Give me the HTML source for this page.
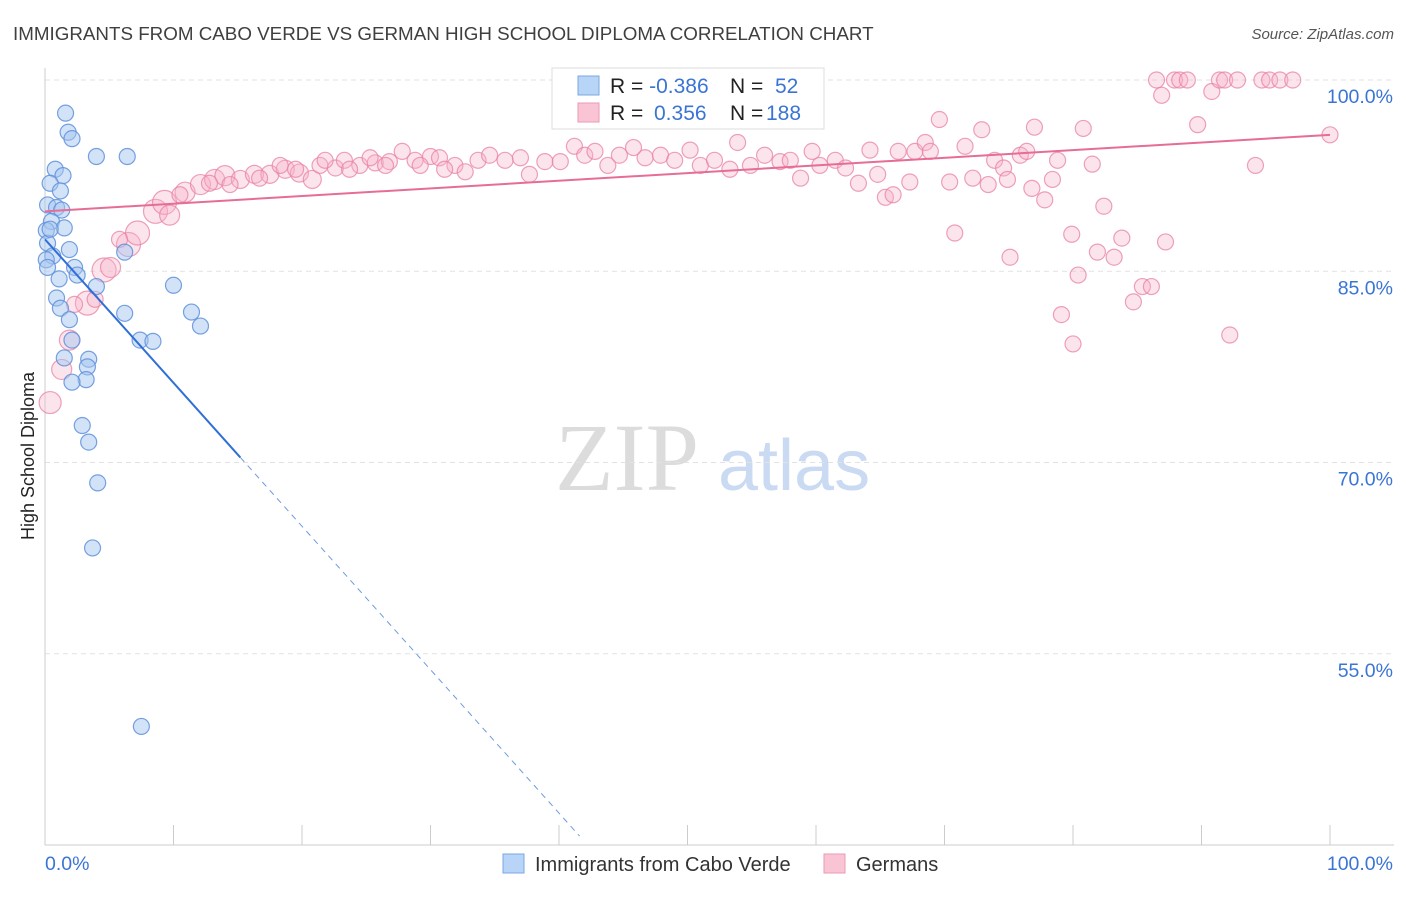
<!DOCTYPE html>
<html><head><meta charset="utf-8"><style>
html,body{margin:0;padding:0;background:#fff;}
body{width:1406px;height:892px;overflow:hidden;font-family:"Liberation Sans",sans-serif;}
</style></head><body>
<svg id="chart" width="1406" height="892" xmlns="http://www.w3.org/2000/svg" font-family="Liberation Sans, sans-serif">
<text x="13" y="40" font-size="18.8" fill="#3f3f3f">IMMIGRANTS FROM CABO VERDE VS GERMAN HIGH SCHOOL DIPLOMA CORRELATION CHART</text>
<text x="1394" y="39" font-size="15" fill="#555" font-style="italic" text-anchor="end">Source: ZipAtlas.com</text>
<text transform="translate(34,456) rotate(-90)" font-size="18" fill="#222" text-anchor="middle">High School Diploma</text>
<g>
<text x="555" y="490" font-size="96" font-family="Liberation Serif, serif" fill="#dcdcdc">ZIP</text>
<text x="718" y="490" font-size="72" fill="#c9daf2">atlas</text>
</g>
<g id="grid"></g>
<g id="axes"></g>
<g id="pinkPts"></g>
<g id="bluePts"></g>
<g id="trends"></g>
<g>
<rect x="552" y="68" width="272" height="61" fill="#fff" stroke="#ddd"/>
<rect x="578" y="76" width="21" height="19" fill="#b8d4f6" stroke="#7aa7e3"/>
<rect x="578" y="103" width="21" height="19" fill="#f9c5d5" stroke="#eb9ab3"/>
<text x="610" y="93" font-size="21" fill="#222">R = <tspan fill="#3a75d4">-0.386</tspan><tspan x="730">N = </tspan><tspan x="775" fill="#3a75d4">52</tspan></text>
<text x="610" y="120" font-size="21" fill="#222">R = <tspan x="654" fill="#3a75d4">0.356</tspan><tspan x="730">N = </tspan><tspan x="766" fill="#3a75d4">188</tspan></text>
</g>
<g>
<rect x="503" y="854" width="21" height="19" fill="#b8d4f6" stroke="#7aa7e3"/>
<text x="535" y="871" font-size="20" fill="#333">Immigrants from Cabo Verde</text>
<rect x="824" y="854" width="21" height="19" fill="#f9c5d5" stroke="#eb9ab3"/>
<text x="856" y="871" font-size="20" fill="#333">Germans</text>
</g>
</svg>
<script>
const yTicks=[100,85,70,55];
const yTickLabels=["100.0%","85.0%","70.0%","55.0%"];
const xEndLabels=["0.0%","100.0%"];
const blueX=[1.6,1.8,2.1,4.0,6.4,0.8,1.4,0.4,1.2,0.2,0.9,1.3,0.5,1.5,0.1,0.2,1.9,6.2,0.6,0.1,2.3,2.5,1.1,4.0,10.0,0.9,1.2,6.2,11.4,1.9,12.1,7.4,8.4,2.1,1.5,3.4,3.3,3.2,2.1,2.9,3.4,4.1,3.7,7.5,0.2,0.4];
const blueY=[97.4,95.9,95.4,94.0,94.0,93.0,92.5,91.9,91.3,90.2,90.0,89.8,88.9,88.4,88.2,87.2,86.7,86.5,86.2,85.9,85.3,84.7,84.4,83.8,83.9,82.9,82.1,81.7,81.8,81.2,80.7,79.6,79.5,79.6,78.2,78.1,77.5,76.5,76.3,72.9,71.6,68.4,63.3,49.3,85.3,88.3];
const pinkX=[0.4,1.3,1.9,3.3,4.6,5.1,6.5,7.2,8.6,9.3,9.7,10.9,12.1,13.2,14.0,15.2,16.3,17.5,18.7,19.8,20.8,21.4,22.6,23.3,24.5,25.7,26.8,27.8,28.8,30.0,30.7,31.9,32.7,33.7,34.6,35.8,37.0,37.7,38.9,40.1,41.2,42.0,42.8,43.8,44.7,45.8,46.7,47.9,49.0,50.2,51.0,52.1,53.3,53.9,54.9,56.0,57.2,58.0,58.8,59.7,60.3,61.5,62.3,63.3,64.2,64.8,65.4,66.0,66.4,67.3,67.7,68.5,68.9,69.6,70.4,70.8,71.6,72.2,72.9,73.4,73.9,74.6,75.1,74.9,75.9,76.4,76.8,77.0,77.8,78.4,78.8,79.1,79.9,80.0,80.4,80.8,81.5,81.9,82.4,83.2,83.8,84.7,85.4,86.1,86.5,86.9,87.9,88.3,88.9,87.2,89.7,90.8,91.4,91.8,92.2,92.8,94.2,94.7,95.3,96.1,97.1,100,2.3,3.9,5.8,10.5,12.8,14.4,16.7,18.3,19.5,21.8,23.7,25.3,26.5,29.2,31.1];
const pinkY=[74.7,77.3,79.6,82.5,85.1,85.3,87.1,88.0,89.7,90.4,89.4,91.2,91.8,92.2,92.5,92.2,92.6,92.6,93.0,92.7,92.2,93.3,93.1,93.7,93.3,93.5,93.6,94.4,93.7,94.0,93.9,93.3,92.8,93.7,94.1,93.7,93.9,92.6,93.6,93.6,94.8,94.1,94.4,93.3,94.1,94.7,93.9,94.1,93.7,94.5,93.3,93.7,93.0,95.1,93.3,94.1,93.6,93.7,92.3,94.4,93.3,93.7,93.1,91.9,94.5,92.6,90.8,91.0,94.4,92.0,94.4,95.1,94.4,96.9,92.0,88.0,94.8,92.3,96.1,91.8,93.7,93.1,86.1,92.2,94.1,94.4,91.5,96.3,90.6,92.2,93.7,81.6,87.9,79.3,84.7,96.2,93.4,86.5,90.1,86.1,87.6,82.6,83.8,83.8,100,98.8,100,100,100,87.3,96.5,99.1,100,100,80.0,100,93.3,100,100,100,100,95.7,82.4,82.8,87.5,91.0,91.9,91.8,92.3,93.3,93.0,93.7,93.0,93.9,93.3,93.3,93.0];
const pinkR=[11,10,10,12,12,10,12,12,12,12,10,10,10,10,10,9,9,9,9,9,9];
const blueTrend=[87.5,-1.125,15.2,41.6];
const pinkTrend=[89.7,95.7];

const NS="http://www.w3.org/2000/svg";
const X0=45,X1=1330,YTOP=80,YBOT=845;
const sx=v=>X0+(X1-X0)*v/100;
const sy=v=>YTOP+(100-v)*(YBOT-YTOP)/60;
function mk(tag,attrs,parent){const e=document.createElementNS(NS,tag);for(const k in attrs)e.setAttribute(k,attrs[k]);parent.appendChild(e);return e;}
const grid=document.getElementById('grid'),axes=document.getElementById('axes');
yTicks.forEach((t,i)=>{
 const l=mk('line',{x1:X0,x2:1394,y1:sy(t),y2:sy(t),stroke:'#e2e2e2','stroke-dasharray':'5,4'},grid);
 
 
 const tx=mk('text',{x:1393,y:sy(t)+23,'font-size':19.5,fill:'#3a75d4','text-anchor':'end'},axes);
 tx.textContent=yTickLabels[i];
 
 
});
const ya=mk('line',{x1:X0,x2:X0,y1:68,y2:YBOT,stroke:'#ccc'},axes);


const xa=mk('line',{x1:X0,x2:1394,y1:YBOT,y2:YBOT,stroke:'#ccc'},axes);


for(let i=0;i<=10;i++){
 const t=mk('line',{x1:sx(i*10),x2:sx(i*10),y1:YBOT,y2:YBOT-20,stroke:'#ccc'},axes);
 
 
}
const xl0=mk('text',{x:45,y:870,'font-size':19.5,fill:'#3a75d4'},axes);xl0.textContent=xEndLabels[0];


const xl1=mk('text',{x:1393,y:870,'font-size':19.5,fill:'#3a75d4','text-anchor':'end'},axes);xl1.textContent=xEndLabels[1];



const pg=document.getElementById('pinkPts');
pinkX.forEach((v,i)=>{
 const c=mk('circle',{cx:sx(v),cy:sy(pinkY[i]),r:pinkR[i]||8,fill:'rgba(247,178,200,0.35)',stroke:'rgba(232,130,162,0.75)','stroke-width':1.2},pg);
 
 
});
const bg=document.getElementById('bluePts');
blueX.forEach((v,i)=>{
 const c=mk('circle',{cx:sx(v),cy:sy(blueY[i]),r:8,fill:'rgba(165,198,240,0.5)',stroke:'rgba(95,145,220,0.85)','stroke-width':1.2},bg);
 
 
});
const tg=document.getElementById('trends');
const bf=x=>blueTrend[0]+blueTrend[1]*x;
const b1=mk('line',{x1:sx(0),y1:sy(bf(0)),x2:sx(blueTrend[2]),y2:sy(bf(blueTrend[2])),stroke:'#2f6fd6','stroke-width':2},tg);


const b2=mk('line',{x1:sx(blueTrend[2]),y1:sy(bf(blueTrend[2])),x2:sx(blueTrend[3]),y2:sy(bf(blueTrend[3])),stroke:'#6d9be0','stroke-width':1,'stroke-dasharray':'6,5'},tg);


const p1=mk('line',{x1:sx(0),y1:sy(pinkTrend[0]),x2:sx(100),y2:sy(pinkTrend[1]),stroke:'#e66d95','stroke-width':2},tg);


</script>
</body></html>
